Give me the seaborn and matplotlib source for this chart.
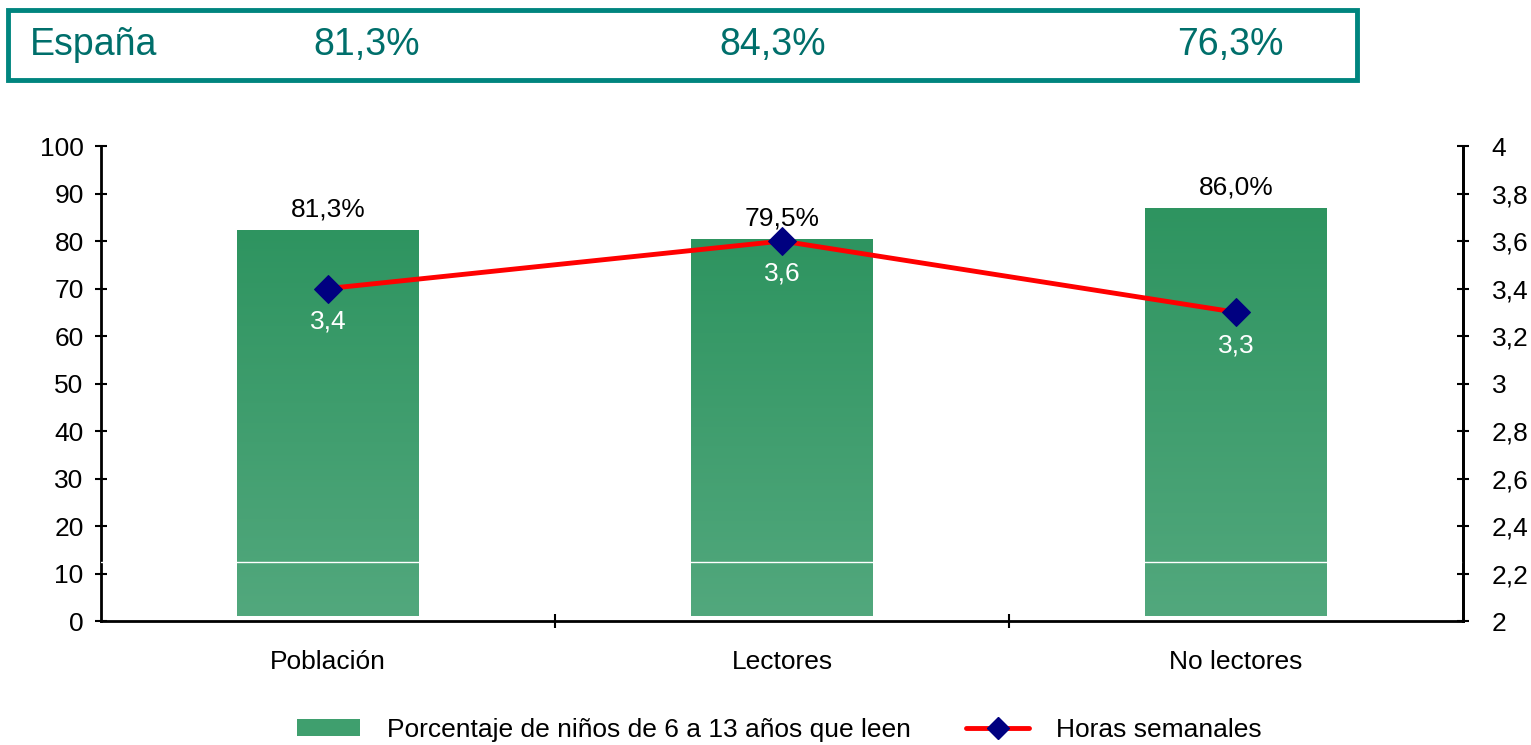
import numpy as np
import matplotlib
matplotlib.use("Agg")
import matplotlib.pyplot as plt
import seaborn as sns
from matplotlib.patches import Patch, Rectangle
from matplotlib.lines import Line2D
from matplotlib.colors import LinearSegmentedColormap

# data
categories = ["Población", "Lectores", "No lectores"]
pct_readers = [81.3, 79.5, 86.0]
hours_week = [3.4, 3.6, 3.3]
header_label = "España"
header_values = ["81,3%", "84,3%", "76,3%"]

sns.set_theme(style="white")
plt.rcParams["font.family"] = ["Liberation Sans", "DejaVu Sans"]
plt.rcParams["text.color"] = "black"
plt.rcParams["xtick.color"] = "black"
plt.rcParams["ytick.color"] = "black"
FS = 19

fig = plt.figure(figsize=(15.31, 7.45), dpi=100)
ax = fig.add_axes([0.066, 0.1664, 0.8896, 0.6376])

df = {"cat": categories, "val": pct_readers}
sns.barplot(x="cat", y="val", data=df, color="#3f9f6e", width=0.4,
            saturation=1, ax=ax)

# gradient fill, bars sit a little above zero like the original
base = 1.0
cmap = LinearSegmentedColormap.from_list("g", ["#52a87d", "#2e9460"])
grad = np.linspace(0, 1, 256).reshape(-1, 1)
for p in ax.patches:
    p.set_y(base)
    x0, w, h = p.get_x(), p.get_width(), p.get_height()
    im = ax.imshow(grad, extent=[x0, x0 + w, base, base + h], origin="lower",
                   aspect="auto", cmap=cmap, zorder=2)
    im.set_clip_path(p)
    p.set_facecolor("none")
    p.set_edgecolor("none")
    ax.annotate(f"{h:.1f}%".replace(".", ","), (x0 + w / 2, base + h),
                xytext=(0, 6), textcoords="offset points", ha="center",
                va="bottom", fontsize=FS, color="black", zorder=6)
ax.axhline(12.4, color="white", lw=1, zorder=3)

ax.set_xlim(-0.5, 2.5)
ax.set_ylim(0, 100)
ax.set_yticks(range(0, 101, 10))
ax.set_xlabel("")
ax.set_ylabel("")
ax.set_xticks(range(len(categories)))
ax.set_xticklabels(categories, fontsize=FS)
ax.set_xticks([0.5, 1.5], minor=True)
ax.tick_params(axis="x", which="major", length=0, pad=21)
ax.tick_params(axis="x", which="minor", length=10, width=1.5,
               direction="inout", color="black", bottom=True)
ax.tick_params(axis="y", length=9, width=1.5, direction="inout",
               color="black", labelsize=FS, left=True, pad=8)
for s in ["left", "bottom", "right"]:
    ax.spines[s].set_color("black")
    ax.spines[s].set_linewidth(2)
ax.spines["top"].set_visible(False)

ax2 = ax.twinx()
xi = np.arange(len(categories))
sns.lineplot(x=xi, y=hours_week, ax=ax2, color="#ff0000", lw=3.5,
             marker="D", markersize=14, markerfacecolor="#000080",
             markeredgecolor="#000080", zorder=5)
for x, v in zip(xi, hours_week):
    ax2.annotate(f"{v:g}".replace(".", ","), (x, v), xytext=(0, -15),
                 textcoords="offset points", ha="center", va="top",
                 fontsize=FS, color="white")
ax2.set_ylim(2, 4)
rt = np.arange(2, 4.01, 0.2).round(1)
ax2.set_yticks(rt)
ax2.set_yticklabels([f"{v:g}".replace(".", ",") for v in rt])
ax2.tick_params(axis="y", length=9, width=1.5, direction="inout",
                color="black", labelsize=FS, right=True, pad=16)
ax2.set_xlim(-0.5, 2.5)
for s in ["top", "left", "bottom"]:
    ax2.spines[s].set_visible(False)
ax2.spines["right"].set_color("black")
ax2.spines["right"].set_linewidth(2)

# header box
W, H = 1531, 745
fig.patches.append(Rectangle((8 / W, 1 - 80 / H), 1349 / W, 70 / H,
                             transform=fig.transFigure, fill=False,
                             edgecolor="#00857f", lw=3.5))
teal = "#006f6b"
fig.text(30 / W, 1 - 45 / H, header_label, fontsize=27, color=teal,
         ha="left", va="center")
for xpos, t in zip([367, 773, 1230], header_values):
    fig.text(xpos / W, 1 - 45 / H, t, fontsize=27, color=teal,
             ha="center", va="center")

handles = [Patch(facecolor="#3f9f6e", edgecolor="none"),
           Line2D([], [], color="#ff0000", lw=3.5, marker="D",
                  markersize=11, markerfacecolor="#000080",
                  markeredgecolor="#000080")]
fig.legend(handles, ["Porcentaje de niños de 6 a 13 años que leen", "Horas semanales"],
           loc="center", bbox_to_anchor=(0.509, 1 - 730 / H), ncol=2,
           frameon=False, fontsize=FS, handlelength=2.4, handleheight=0.6,
           columnspacing=2.1, handletextpad=1.0)

fig.savefig("out.png", dpi=100)
